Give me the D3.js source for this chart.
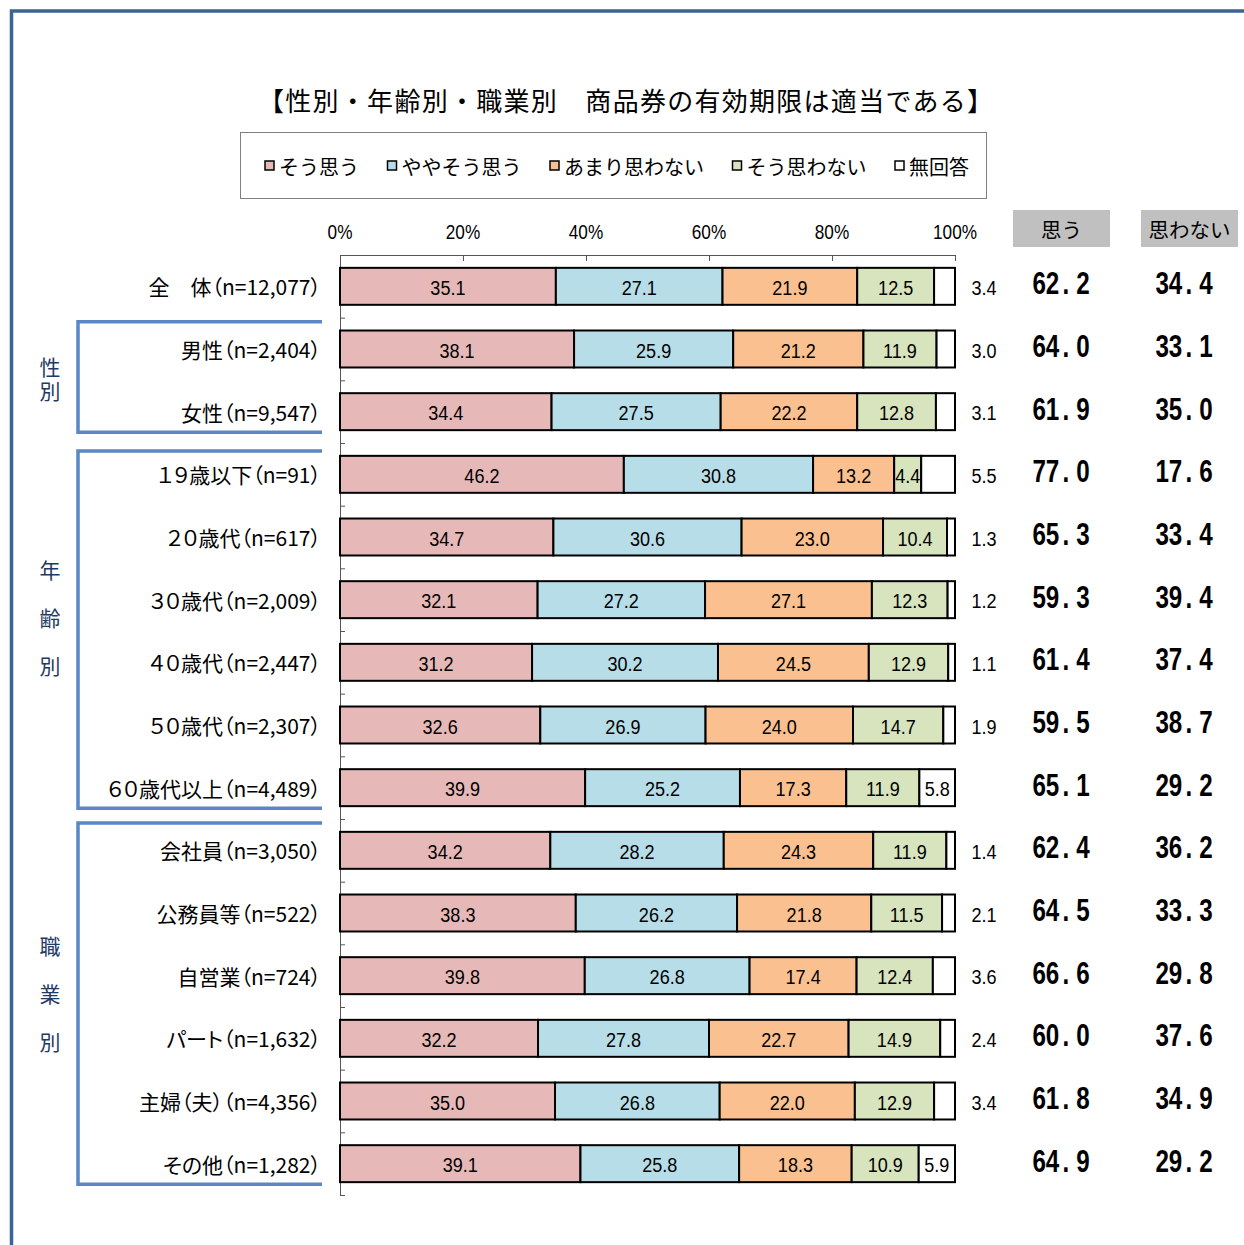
<!DOCTYPE html>
<html><head><meta charset="utf-8">
<script src="https://cdn.jsdelivr.net/npm/d3@7"></script>
<style>
html,body{margin:0;padding:0;background:#fff;}
svg{display:block;}
.palt{font-feature-settings:"palt" 1;}
</style></head>
<body>
<svg id="c" width="1244" height="1245"></svg>
<script>
const categories = ["全　体（n=12,077）","男性（n=2,404）","女性（n=9,547）","１９歳以下（n=91）","２０歳代（n=617）","３０歳代（n=2,009）","４０歳代（n=2,447）","５０歳代（n=2,307）","６０歳代以上（n=4,489）","会社員（n=3,050）","公務員等（n=522）","自営業（n=724）","パート（n=1,632）","主婦（夫）（n=4,356）","その他（n=1,282）"];
const seriesNames = ["そう思う","ややそう思う","あまり思わない","そう思わない","無回答"];
const souOmou     = [35.1,38.1,34.4,46.2,34.7,32.1,31.2,32.6,39.9,34.2,38.3,39.8,32.2,35.0,39.1];
const yayaSouOmou = [27.1,25.9,27.5,30.8,30.6,27.2,30.2,26.9,25.2,28.2,26.2,26.8,27.8,26.8,25.8];
const amariOmowanai=[21.9,21.2,22.2,13.2,23.0,27.1,24.5,24.0,17.3,24.3,21.8,17.4,22.7,22.0,18.3];
const souOmowanai = [12.5,11.9,12.8,4.4,10.4,12.3,12.9,14.7,11.9,11.9,11.5,12.4,14.9,12.9,10.9];
const mukaito     = [3.4,3.0,3.1,5.5,1.3,1.2,1.1,1.9,5.8,1.4,2.1,3.6,2.4,3.4,5.9];
const omouTotal   = [62.2,64.0,61.9,77.0,65.3,59.3,61.4,59.5,65.1,62.4,64.5,66.6,60.0,61.8,64.9];
const omowanaiTotal=[34.4,33.1,35.0,17.6,33.4,39.4,37.4,38.7,29.2,36.2,33.3,29.8,37.6,34.9,29.2];
const xTickValues = [0,0.2,0.4,0.6,0.8,1.0];
const groupNames = ["性別","年齢別","職業別"];
const groupFirst = [1,3,9];
const groupLast  = [2,8,14];
const colors = ["#E6B9B8","#B7DEE8","#FAC090","#D7E4BD","#FFFFFF"];
const titleText = "【性別・年齢別・職業別　商品券の有効期限は適当である】";
const headerOmou = "思う", headerOmowanai = "思わない";

const JP = "'Noto Sans CJK JP','Noto Sans CJK SC',sans-serif";
const LAT = "'Liberation Sans',Arial,sans-serif";

const svg = d3.select("#c");

// outer frame
svg.append("path").attr("d","M1244,11 H11.5 V1245").attr("fill","none").attr("stroke","#3A6496").attr("stroke-width",3.5);

// title
svg.append("text").attr("x",258).attr("y",99).attr("dominant-baseline","central")
  .attr("textLength",735).attr("lengthAdjust","spacing")
  .style("font-family",JP).style("font-size","26px").attr("fill","#000").text(titleText);

// data
const keys = seriesNames;
const rows = categories.map((c,i)=>({cat:c, "そう思う":souOmou[i], "ややそう思う":yayaSouOmou[i], "あまり思わない":amariOmowanai[i], "そう思わない":souOmowanai[i], "無回答":mukaito[i]}));
const stacked = d3.stack().keys(keys).offset(d3.stackOffsetExpand)(rows);

const x = d3.scaleLinear().domain([0,1]).range([340,955]);
const y = d3.scaleBand().domain(categories).range([255,1195]).paddingInner(0.41).paddingOuter(0.205);
const yb = d3.scaleLinear().domain([0,categories.length]).range([255,1195]);
const color = d3.scaleOrdinal().domain(keys).range(colors);

function narrowText(parent, tx, ty, str, size, sx, weight){
  const g = parent.append("g").attr("transform",`translate(${tx},${ty}) scale(${sx},1)`);
  return g.append("text").attr("x",0).attr("y",0).attr("text-anchor","middle").attr("dominant-baseline","central")
    .style("font-family",LAT).style("font-size",size+"px").style("font-weight",weight||"normal").attr("fill","#000").text(str);
}

// legend
const lg = svg.append("g");
lg.append("rect").attr("x",240.5).attr("y",132.5).attr("width",746).attr("height",66).attr("fill","#fff").attr("stroke","#808080").attr("stroke-width",1);
const items = lg.selectAll("g.it").data(keys).join("g").attr("class","it");
items.append("rect").attr("width",9).attr("height",9).attr("y",161).attr("fill",d=>color(d)).attr("stroke","#000").attr("stroke-width",1.5);
items.append("text").attr("y",166).attr("dominant-baseline","central").style("font-family",JP).style("font-size","20px").text(d=>d);
(function(){
  const widths = [];
  items.each(function(){ widths.push(d3.select(this).select("text").node().getComputedTextLength()); });
  const start=265, end=969, sq=14;
  const total = d3.sum(widths)+sq*widths.length;
  const gap = (end-start-total)/(widths.length-1);
  let cx = start;
  items.each(function(d,i){
    const g=d3.select(this);
    g.select("rect").attr("x",cx);
    g.select("text").attr("x",cx+sq);
    cx += sq+widths[i]+gap;
  });
})();

// top axis
const ax = svg.append("g").attr("transform","translate(0,255)")
  .call(d3.axisTop(x).tickValues(xTickValues).tickFormat("").tickSize(-6));
ax.selectAll("path,line").attr("stroke","#555");
xTickValues.forEach(v=>narrowText(svg, x(v), 232, d3.format(".0%")(v), 20, 0.86));

// left axis (category boundaries)
const la = svg.append("g").attr("transform","translate(340,0)")
  .call(d3.axisRight(yb).tickValues(d3.range(0,categories.length+1)).tickSize(5).tickSizeOuter(0).tickFormat(""));
la.selectAll("path,line").attr("stroke","#555");

// bars
const layer = svg.append("g").selectAll("g").data(stacked).join("g").attr("fill",d=>color(d.key));
layer.selectAll("rect").data(d=>d).join("rect")
  .attr("x",d=>x(d[0])).attr("width",d=>x(d[1])-x(d[0]))
  .attr("y",d=>y(d.data.cat)).attr("height",y.bandwidth())
  .attr("stroke","#000").attr("stroke-width",2);

// labels in bars
const INSIDE_MIN = 5.7;
const lblG = svg.append("g");
stacked.forEach(s=>{
  s.forEach((d,i)=>{
    const v = d.data[s.key];
    const isLast = s.key==="無回答";
    let lx;
    if (isLast && v < INSIDE_MIN) { lx = x(1)+29; }
    else { lx = (x(d[0])+x(d[1]))/2; }
    narrowText(lblG, lx, y(d.data.cat)+y.bandwidth()/2+1, d3.format(".1f")(v), 21, 0.86);
  });
});

// category labels
svg.append("g").selectAll("text").data(categories).join("text").attr("class","palt")
  .attr("x",321).attr("y",d=>y(d)+y.bandwidth()/2).attr("text-anchor","end").attr("dominant-baseline","central")
  .style("font-family",JP).style("font-size","21px").attr("fill","#000").text(d=>d);

// group brackets
groupNames.forEach((g,i)=>{
  const top = yb(groupFirst[i])+(i===1?8:4);
  const bot = y(categories[groupLast[i]])+y.bandwidth()+2;
  svg.append("path").attr("d",`M322,${top} H78 V${bot} H322`).attr("fill","none").attr("stroke","#5A87C6").attr("stroke-width",3.5);
  const n = Array.from(g).length;
  const fs = 21;
  const mid = (y(categories[groupFirst[i]])+y(categories[groupLast[i]])+y.bandwidth())/2;
  const step = n>2 ? 48 : 24;
  const off = n>2 ? -13 : -1;
  const topY = mid+off-(n-1)/2*step-fs/2;
  svg.append("text").attr("x",50).attr("y",topY)
      .style("writing-mode","vertical-rl").style("letter-spacing",(step-fs)+"px")
      .attr("text-anchor","start")
      .style("font-family",JP).style("font-size",fs+"px").attr("fill","#1F3A64").text(g);
});

// right headers
[[headerOmou,1013],[headerOmowanai,1141]].forEach(([t,x0])=>{
  svg.append("rect").attr("x",x0).attr("y",210).attr("width",97).attr("height",37).attr("fill","#C0C0C0");
  svg.append("text").attr("x",x0+48.5).attr("y",228.5).attr("text-anchor","middle").attr("dominant-baseline","central")
    .style("font-family",JP).style("font-size","20.5px").attr("fill","#000").text(t);
});

// right values
function bigNum(val, cx, cy){
  const s = d3.format(".1f")(val).split(".");
  const g = svg.append("g").attr("transform",`translate(${cx},${cy}) scale(0.78,1)`);
  const t = g.append("text").attr("x",0).attr("y",0).attr("text-anchor","middle").attr("dominant-baseline","central")
    .style("font-family",LAT).style("font-size","31px").style("font-weight","bold").attr("fill","#000");
  t.append("tspan").text(s[0]);
  t.append("tspan").attr("dx",4).text(".");
  t.append("tspan").attr("dx",9).text(s[1]);
}
categories.forEach((c,i)=>{
  const cy = y(c)+y.bandwidth()/2-3;
  bigNum(omouTotal[i],1061,cy);
  bigNum(omowanaiTotal[i],1184,cy);
});
</script>
</body></html>
